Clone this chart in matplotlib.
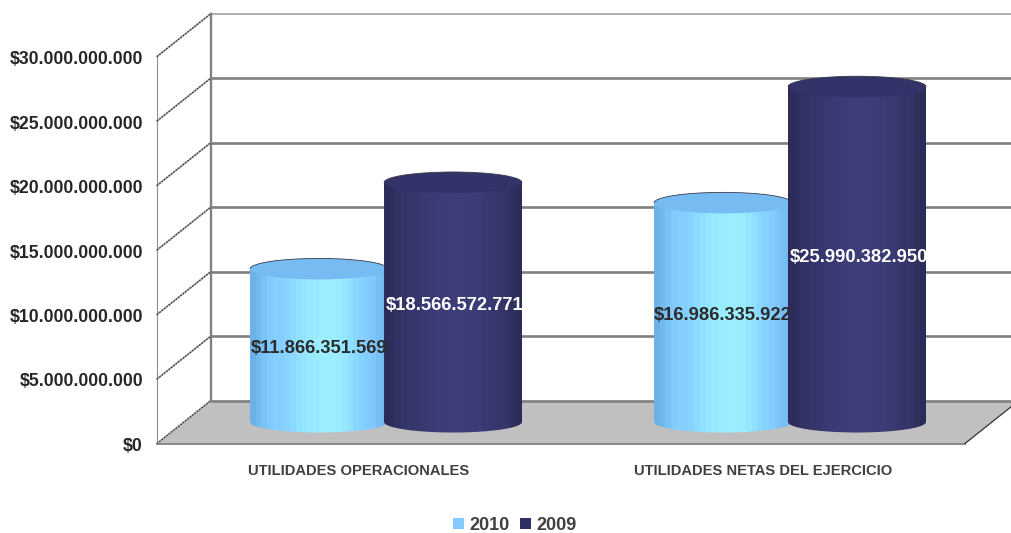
#!/usr/bin/env python3
"""Utilidades 2010 vs 2009, fake 3D cylinder chart."""
import numpy as np
import matplotlib
matplotlib.use('Agg')
import matplotlib.pyplot as plt
from matplotlib.colors import to_rgb
from matplotlib.patches import Arc, Ellipse, Patch, Polygon

categories = ['UTILIDADES OPERACIONALES', 'UTILIDADES NETAS DEL EJERCICIO']
series_names = ['2010', '2009']
values_2010 = [11866351569, 16986335922]
values_2009 = [18566572771, 25990382950]
labels_2010 = ['$11.866.351.569', '$16.986.335.922']
labels_2009 = ['$18.566.572.771', '$25.990.382.950']
y_ticks = [0, 5e9, 10e9, 15e9, 20e9, 25e9, 30e9]
y_tick_labels = ['$0', '$5.000.000.000', '$10.000.000.000', '$15.000.000.000',
                 '$20.000.000.000', '$25.000.000.000', '$30.000.000.000']

W, H = 1011, 533
# pixel scale of the picture
px_x = 404.0            # one category
px_y = 64.5 / 5e9       # pixels per peso
x0_px, y0_px = 184.0, 422.0   # category 0 / value 0, middle of the depth
depth_x = 27 / px_x     # half depth of the box
depth_y = 21.5 / px_y

fig = plt.figure(figsize=(W / 100, H / 100), dpi=100)
ax = fig.add_axes([0, 0, 1, 1])
xlim = ((0 - x0_px) / px_x - 0.5, (W - x0_px) / px_x - 0.5)
ylim = ((y0_px - H) / px_y, y0_px / px_y)
ax.set_axis_off()

plt.rcParams['font.family'] = ['Liberation Sans', 'DejaVu Sans']

x_front_l, x_front_r = -0.5 - depth_x, 1.5 - depth_x
x_back_l, x_back_r = -0.5 + depth_x, 1.5 + depth_x
y_front, y_back = -depth_y, depth_y

# floor
ax.add_patch(Polygon([(x_front_l, y_front), (x_back_l, y_back), (x_back_r, y_back), (x_front_r, y_front)],
                     facecolor='#C0C0C0', edgecolor='none', zorder=1))
ax.plot([x_front_l, x_front_r], [y_front, y_front], color='#808080', lw=1.3, zorder=2)

# back wall grid and side wall
for v in y_ticks:
    top = v == y_ticks[-1]
    ax.plot([x_back_l, x_back_r], [v + y_back, v + y_back], color='#999999' if top else '#808080',
            lw=1.1 if top else 1.9, zorder=2, solid_capstyle='butt')
    ax.plot([x_front_l, x_back_l], [v + y_front, v + y_back], color='#AAAAAA', lw=1.3, zorder=2)
    ax.plot([x_front_l, x_back_l], [v + y_front, v + y_back], color='#333333', lw=0.9,
            ls=(0, (1.2, 1.2)), zorder=3)
ax.plot([x_back_l, x_back_l], [y_back, y_ticks[-1] + y_back], color='#808080', lw=1.7, zorder=2)
ax.plot([x_front_l, x_front_l], [y_front, y_ticks[-1] + y_front], color='#909090', lw=0.8, zorder=2)
ax.plot([x_front_r, x_back_r], [y_front, y_back], color='#333333', lw=0.9, zorder=2)

bar_w = 138 / px_x
offset = 67 / px_x
rim = 10.5 / px_y   # half height of the cylinder ends

shades_2010 = ['#6CB2E8', '#72B9EE', '#7AC3F7', '#80CAFD', '#84CFFF', '#84CFFF', '#88D4FF', '#8CDAFF',
               '#90E0FF', '#94E5FF', '#97E9FF', '#99ECFF', '#9BEEFF', '#9BEEFF', '#9BEEFF', '#99ECFF',
               '#95E6FF', '#90E0FF', '#8AD8FF', '#86D2FF', '#82CCFF', '#7EC6FB', '#78BFF5', '#74BAF0']
shades_2009 = ['#2C2C5A', '#2E2E5E', '#313163', '#333367', '#35356B', '#36366E', '#383870', '#393973',
               '#3A3A75', '#3B3B76', '#3C3C77', '#3D3D78', '#3D3D78', '#3D3D78', '#3C3C77', '#3C3C76',
               '#3B3B75', '#3A3A73', '#393971', '#37376E', '#35356A', '#333365', '#30305F', '#2C2C58']


def cylinder(xc, value, shades, top_color, z):
    left, right = xc - bar_w / 2, xc + bar_w / 2
    img = np.array([[to_rgb(c) for c in shades]])
    im = ax.imshow(img, extent=(left, right, -rim, value), aspect='auto',
                   interpolation='nearest', zorder=z)
    t = np.linspace(np.pi, 2 * np.pi, 80)
    arc = np.column_stack([xc + bar_w / 2 * np.cos(t), rim * np.sin(t)])
    outline = np.vstack([arc, [[right, value], [left, value]]])
    clip = Polygon(outline, transform=ax.transData, facecolor='none', edgecolor='none')
    ax.add_patch(clip)
    im.set_clip_path(clip)
    ax.add_patch(Ellipse((xc, value), bar_w, 2 * rim, facecolor=top_color, edgecolor='none', zorder=z + 0.1))
    ax.add_patch(Arc((xc, value), bar_w, 2 * rim, theta1=60, theta2=120, color='#3A3A4A', lw=0.6, zorder=z + 0.2))


for i, (v10, v09) in enumerate(zip(values_2010, values_2009)):
    cylinder(i - offset, v10, shades_2010, '#76BCF2', 4 + i * 2)
    cylinder(i + offset, v09, shades_2009, '#33336A', 5 + i * 2)
    ax.text(i - offset, v10 / 2 - 3.5 / px_y, labels_2010[i], color='#2B2B2B', fontsize=13.2, fontweight='bold',
            ha='center', va='center', zorder=10)
    ax.text(i + offset + 2 / px_x, v09 / 2 - 3.5 / px_y, labels_2009[i], color='white', fontsize=13.2,
            fontweight='bold', ha='center', va='center', zorder=10)
    ax.text(i - depth_x, (y0_px - 471) / px_y, categories[i], color='#404040', fontsize=10.6,
            fontweight='bold', ha='center', va='center', zorder=10)

for v, lab in zip(y_ticks, y_tick_labels):
    ax.text((143 - x0_px) / px_x - 0.5, v + y_front - 3 / px_y, lab, color='#262626', fontsize=12.7,
            fontweight='bold', ha='right', va='center', zorder=10)

handles = [Patch(facecolor='#84CAFF', label=series_names[0]), Patch(facecolor='#2F2F66', label=series_names[1])]
ax.legend(handles=handles, loc='center', bbox_to_anchor=(515 / W, 1 - 525.5 / H), ncol=2, frameon=False,
          prop={'weight': 'bold', 'size': 13}, labelcolor='#404040', handlelength=0.6, handleheight=0.6,
          handletextpad=0.3, columnspacing=0.6, borderpad=0, borderaxespad=0)

ax.set_xlim(xlim)
ax.set_ylim(ylim)
fig.savefig('out.png', dpi=100)
